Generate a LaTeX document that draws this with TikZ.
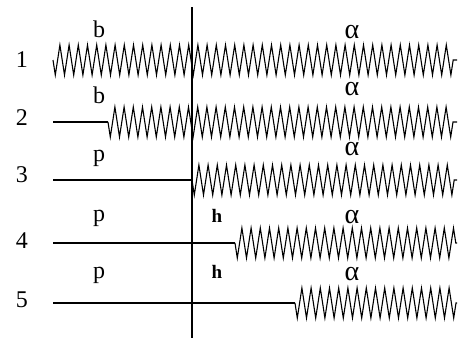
\documentclass[tikz,border=0pt]{standalone}
\usepackage{fontspec}
\setmainfont{Liberation Serif}
\usetikzlibrary{decorations.pathmorphing, positioning}

\begin{document}
\begin{tikzpicture}[
  x=1pt, y=-1pt,
  lbl/.style={anchor=base, inner sep=0pt, font=\fontsize{24}{26}\selectfont},
  albl/.style={anchor=base, inner sep=0pt, font=\fontsize{28}{30}\selectfont},
  hlbl/.style={anchor=base, inner sep=0pt, font=\fontsize{19}{21}\selectfont\bfseries},
  flat/.style={line width=1.8pt},
  spring/.style={line width=1.1pt, miter limit=20, decorate,
    decoration={zigzag, segment length=9.2pt, amplitude=-15pt}}
]
  \useasboundingbox (0,0) rectangle (459,341);

  % interface
  \coordinate (top) at (192,7);
  \coordinate (bot) at (192,338);
  \draw[line width=1.4pt] (top) -- (bot);

  % row ends
  \coordinate (l1) at (53,60);   \coordinate (r1) at (457,60);
  \coordinate (l2) at (53,122);  \coordinate (z2) at (108,122); \coordinate (r2) at (457,122);
  \coordinate (l3) at (53,180);  \coordinate (z3) at (192,180); \coordinate (r3) at (457,180);
  \coordinate (l4) at (53,243);  \coordinate (z4) at (235,243); \coordinate (r4) at (457,243);
  \coordinate (l5) at (53,303);  \coordinate (z5) at (295,303); \coordinate (r5) at (457,303);

  % row 1
  \draw[spring] (l1) -- (r1);
  % row 2
  \draw[flat] (l2) -- (z2);
  \draw[spring] (z2) -- (r2);
  % row 3
  \draw[flat] (l3) -- (z3);
  \draw[spring] (z3) -- (r3);
  % row 4
  \draw[flat] (l4) -- (z4);
  \draw[spring] (z4) -- (r4);
  % row 5
  \draw[flat] (l5) -- (z5);
  \draw[spring] (z5) -- (r5);

  % row numbers
  \node[lbl] (n1) at (22,67) {1};
  \node[lbl] (n2) at (22,125) {2};
  \node[lbl] (n3) at (22,182) {3};
  \node[lbl] (n4) at (22,248) {4};
  \node[lbl] (n5) at (22,307) {5};

  % phase labels
  \node[lbl] (b1) at (99,37) {b};
  \node[lbl] (b2) at (99,103) {b};
  \node[lbl] (p3) at (99,161) {p};
  \node[lbl] (p4) at (99,221) {p};
  \node[lbl] (p5) at (99,278) {p};

  \node[albl] (a1) at (352,38) {α};
  \node[albl] (a2) at (352,95) {α};
  \node[albl] (a3) at (352,155) {α};
  \node[albl] (a4) at (352,223) {α};
  \node[albl] (a5) at (352,280) {α};

  \node[hlbl] (h4) at (217,222) {h};
  \node[hlbl] (h5) at (217,278) {h};
\end{tikzpicture}
\end{document}
